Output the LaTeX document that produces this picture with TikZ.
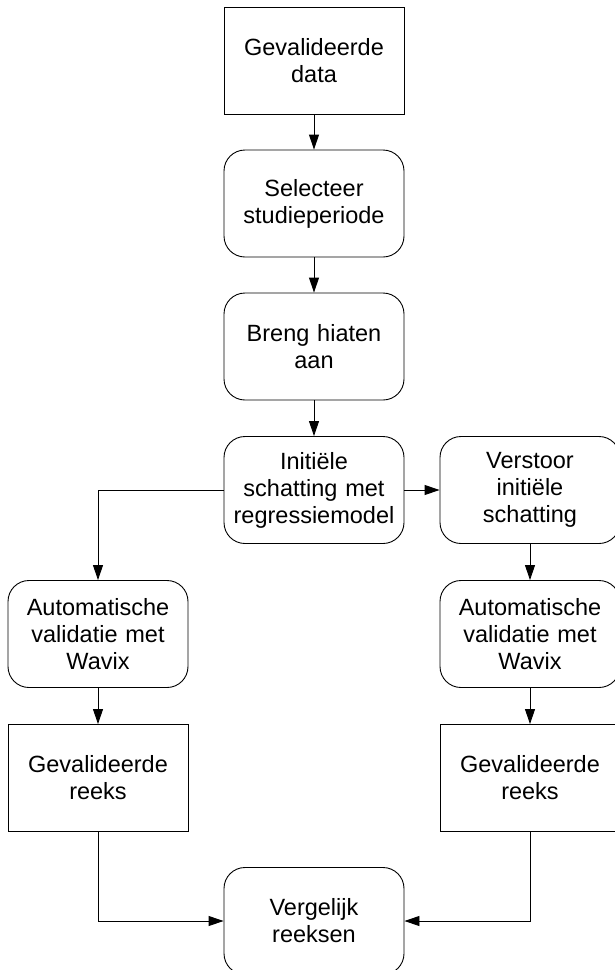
\documentclass[tikz,border=0pt]{standalone}
\usepackage{fontspec}
\setmainfont{Liberation Sans}
\usetikzlibrary{arrows.meta}
\begin{document}
\begin{tikzpicture}[x=1pt,y=-1pt,
  box/.style={draw=black, line width=0.9pt, fill=white, minimum width=180pt, minimum height=107pt,
    text width=176pt, align=center, inner sep=0pt,
    font=\fontsize{23.5}{27}\selectfont},
  roundbox/.style={box, rounded corners=21pt},
  flow/.style={draw=black, line width=0.9pt, -{Triangle[length=15pt,width=10pt]}}]
\useasboundingbox (0,0) rectangle (615,970);
\fill[white] (0,0) rectangle (615,970);

\node[box]      (data)   at (314,60.5)  {Gevalideerde\\data};
\node[roundbox] (select) at (314,203.5) {Selecteer\\studieperiode};
\node[roundbox] (gaps)   at (314,346.5) {Breng hiaten\\aan};
\node[roundbox] (init)   at (314,490)   {Initiële\\schatting met\\regressiemodel};
\node[roundbox] (perturb) at (530,490)  {Verstoor\\initiële\\schatting};
\node[roundbox] (valL)   at (98,634)    {Automatische\\validatie met\\Wavix};
\node[roundbox] (valR)   at (530,634)   {Automatische\\validatie met\\Wavix};
\node[box]      (serL)   at (98,778)    {Gevalideerde\\reeks};
\node[box]      (serR)   at (530,778)   {Gevalideerde\\reeks};
\node[roundbox] (cmp)    at (314,921)   {Vergelijk\\reeksen};

\draw[flow] (data) -- (select);
\draw[flow] (select) -- (gaps);
\draw[flow] (gaps) -- (init);
\draw[flow] (init) -- (perturb);
\draw[flow] (init.west) -| (valL.north);
\draw[flow] (perturb) -- (valR);
\draw[flow] (valL) -- (serL);
\draw[flow] (valR) -- (serR);
\draw[flow] (serL.south) |- (cmp.west);
\draw[flow] (serR.south) |- (cmp.east);
\end{tikzpicture}
\end{document}
